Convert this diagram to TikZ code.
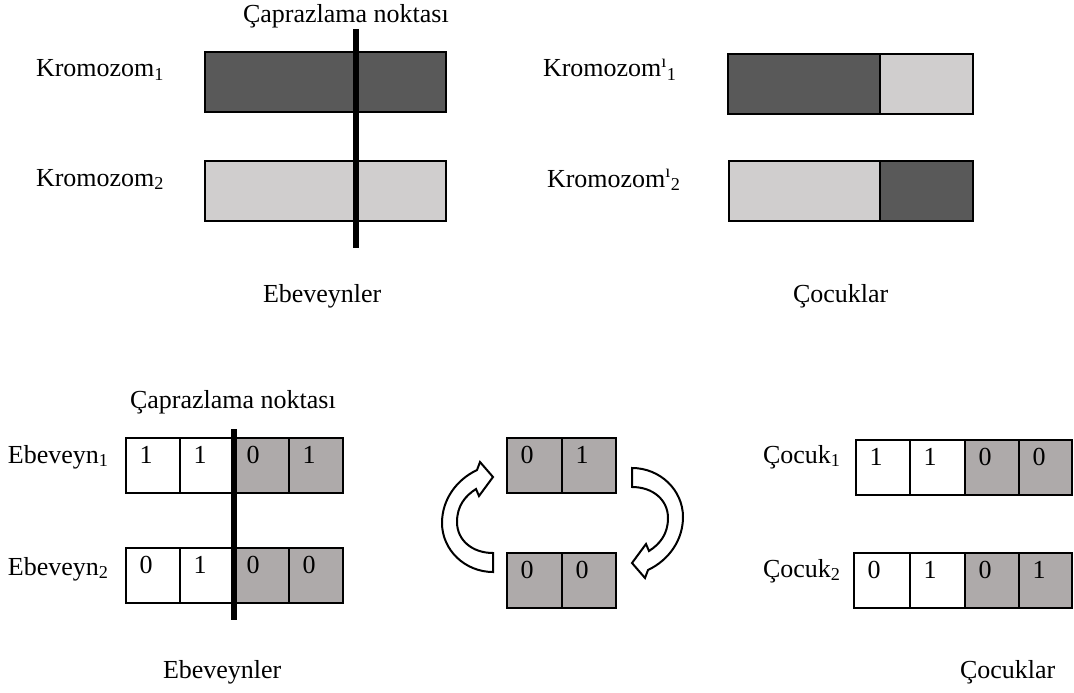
\documentclass[tikz,border=0pt]{standalone}
\usepackage{fontspec}
\setmainfont{Liberation Serif}
\definecolor{darkbar}{RGB}{89,89,89}
\definecolor{lightbar}{RGB}{208,206,206}
\definecolor{genegray}{RGB}{174,170,170}
\newcommand\sub[1]{\textsubscript{#1}}
\newcommand\tick{\textsuperscript{ı}}
% one gene cell: name, left, top, width, fill, digit
\newcommand\genecell[6]{%
  \node[cell, fill=#5, minimum width=#4pt] (#1) at (#2,#3) {};
  \node[digit] (#1d) at ([shift={(20,25)}]#1.north west) {#6};}
\begin{document}
\begin{tikzpicture}[x=1pt,y=-1pt,
  every node/.style={font=\fontsize{26}{31}\selectfont, inner sep=0pt, outer sep=0pt},
  lbl/.style={anchor=base west},
  bar/.style={draw=black, line width=1.3pt, anchor=north west, minimum height=60pt},
  cell/.style={draw=black, line width=2pt, anchor=north west, minimum height=55pt},
  digit/.style={anchor=base},
  cutline/.style={line width=5.5pt},
  swaparrow/.style={draw=black, line width=2pt, fill=white, line join=miter}]

\useasboundingbox (0,0) rectangle (1074,693);

% ---- parents, whole chromosomes ----
\node[bar, fill=darkbar, minimum width=241pt] (k1) at (205,52) {};
\node[bar, fill=lightbar, minimum width=241pt] (k2) at (205,161) {};
\coordinate (cutA) at (356,29);
\coordinate (cutB) at (356,248);
\draw[cutline] (cutA) -- (cutB);
\node[lbl] (cp1) at (243,23) {Çaprazlama noktası};
\node[lbl] (lk1) at (36,77) {Kromozom\sub{1}};
\node[lbl] (lk2) at (36,186) {Kromozom\sub{2}};
\node[lbl] (par1) at (263,302) {Ebeveynler};

% ---- children, whole chromosomes ----
\node[bar, fill=darkbar, minimum width=152pt] (c1a) at (728,54) {};
\node[bar, fill=lightbar, minimum width=93pt] (c1b) at (880,54) {};
\node[bar, fill=lightbar, minimum width=151pt] (c2a) at (729,161) {};
\node[bar, fill=darkbar, minimum width=93pt] (c2b) at (880,161) {};
\node[lbl] (lc1) at (543,77) {Kromozom\tick\sub{1}};
\node[lbl] (lc2) at (547,187) {Kromozom\tick\sub{2}};
\node[lbl] (chi1) at (793,302) {Çocuklar};

% ---- parents, binary genes ----
\genecell{pa1}{126}{438}{54}{white}{1}
\genecell{pa2}{180}{438}{53}{white}{1}
\genecell{pa3}{233}{438}{56}{genegray}{0}
\genecell{pa4}{289}{438}{54}{genegray}{1}
\genecell{pb1}{126}{548}{54}{white}{0}
\genecell{pb2}{180}{548}{53}{white}{1}
\genecell{pb3}{233}{548}{56}{genegray}{0}
\genecell{pb4}{289}{548}{54}{genegray}{0}
\coordinate (cutC) at (234,429);
\coordinate (cutD) at (234,620);
\draw[cutline] (cutC) -- (cutD);
\node[lbl] (cp2) at (130,408) {Çaprazlama noktası};
\node[lbl] (le1) at (8,463) {Ebeveyn\sub{1}};
\node[lbl] (le2) at (8,575) {Ebeveyn\sub{2}};
\node[lbl] (par2) at (163,678) {Ebeveynler};

% ---- exchanged tails ----
\genecell{sa1}{507}{438}{55}{genegray}{0}
\genecell{sa2}{562}{438}{54}{genegray}{1}
\genecell{sb1}{507}{553}{55}{genegray}{0}
\genecell{sb2}{562}{553}{54}{genegray}{0}
% curved arrow, drawn once and turned half round for the other side
\def\swappath{(493,477) -- (480,462) -- (477,470)
  .. controls (456,480) and (442,500) .. (442,523)
  .. controls (442,550) and (465,572) .. (493,572)
  -- (493,553)
  .. controls (472,553) and (457,540) .. (457,522)
  .. controls (457,506) and (465,496) .. (476,489)
  -- (479,496) -- cycle}
\path[swaparrow] \swappath;
\path[swaparrow, rotate around={180:(562.5,520)}] \swappath;

% ---- children, binary genes ----
\genecell{ca1}{856}{440}{54}{white}{1}
\genecell{ca2}{910}{440}{55}{white}{1}
\genecell{ca3}{965}{440}{54}{genegray}{0}
\genecell{ca4}{1019}{440}{53}{genegray}{0}
\genecell{cb1}{854}{553}{56}{white}{0}
\genecell{cb2}{910}{553}{55}{white}{1}
\genecell{cb3}{965}{553}{54}{genegray}{0}
\genecell{cb4}{1019}{553}{53}{genegray}{1}
\node[lbl] (lo1) at (763,463) {Çocuk\sub{1}};
\node[lbl] (lo2) at (763,577) {Çocuk\sub{2}};
\node[lbl] (chi2) at (960,678) {Çocuklar};
\end{tikzpicture}
\end{document}
